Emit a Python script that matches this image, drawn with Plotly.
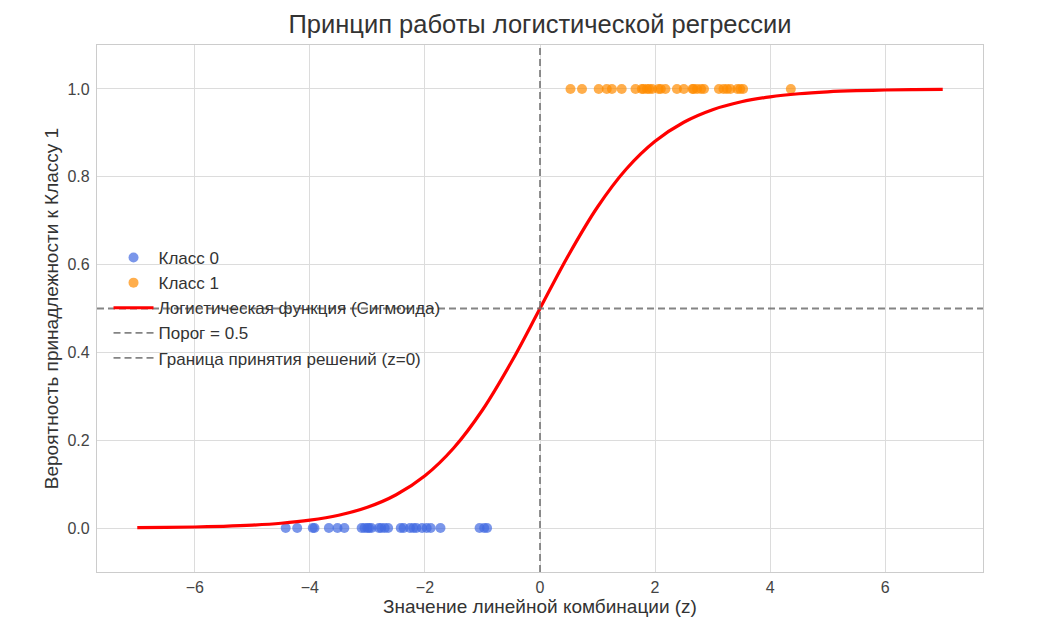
import plotly.graph_objects as go

# class 0 observations (z values), plotted at probability 0
class0_z = [-4.42, -4.22, -3.95, -3.92, -3.67, -3.52, -3.40, -3.10, -3.05, -3.00,
            -2.97, -2.93, -2.80, -2.76, -2.70, -2.64, -2.42, -2.37, -2.26, -2.20,
            -2.15, -2.05, -1.97, -1.90, -1.73, -1.05, -0.97, -0.92]
# class 1 observations (z values), plotted at probability 1
class1_z = [0.53, 0.73, 1.02, 1.16, 1.25, 1.42, 1.66, 1.77, 1.80, 1.86, 1.90,
            1.95, 2.06, 2.10, 2.18, 2.38, 2.50, 2.65, 2.67, 2.73, 2.80, 2.85,
            3.11, 3.19, 3.25, 3.31, 3.43, 3.48, 3.53, 4.36]

# sigmoid curve sampled at half steps
curve_z = [-7.0, -6.5, -6.0, -5.5, -5.0, -4.5, -4.0, -3.5, -3.0, -2.5, -2.0, -1.5,
           -1.0, -0.5, 0.0, 0.5, 1.0, 1.5, 2.0, 2.5, 3.0, 3.5, 4.0, 4.5, 5.0,
           5.5, 6.0, 6.5, 7.0]
curve_p = [0.0009, 0.0015, 0.0025, 0.0041, 0.0067, 0.0110, 0.0180, 0.0293,
           0.0474, 0.0759, 0.1192, 0.1824, 0.2689, 0.3775, 0.5000, 0.6225,
           0.7311, 0.8176, 0.8808, 0.9241, 0.9526, 0.9707, 0.9820, 0.9890,
           0.9933, 0.9959, 0.9975, 0.9985, 0.9991]

threshold = 0.5
boundary = 0

x_ticks = [-6, -4, -2, 0, 2, 4, 6]
y_ticks = [0.0, 0.2, 0.4, 0.6, 0.8, 1.0]

font_family = 'Liberation Sans, Arial, sans-serif'
grey_dash = dict(color='rgba(110,110,110,0.85)', width=1.8, dash='7px,4px')

fig = go.Figure()

fig.add_trace(go.Scatter(x=class0_z, y=[0] * len(class0_z), mode='markers', name='Класс 0',
                         marker=dict(color='royalblue', size=10, opacity=0.7, line=dict(width=0))))
fig.add_trace(go.Scatter(x=class1_z, y=[1] * len(class1_z), mode='markers', name='Класс 1',
                         marker=dict(color='darkorange', size=10, opacity=0.7, line=dict(width=0))))
fig.add_trace(go.Scatter(x=curve_z, y=curve_p, mode='lines', name='Логистическая функция (Сигмоида)',
                         line=dict(color='red', width=3.2, shape='spline')))

fig.add_hline(y=threshold, line=grey_dash, showlegend=True, name='Порог = 0.5', layer='above')
fig.add_vline(x=boundary, line=grey_dash, showlegend=True, name='Граница принятия решений (z=0)',
              layer='above')

axis_common = dict(showgrid=True, gridcolor='#dcdcdc', gridwidth=1.2, showline=True,
                   linecolor='#cccccc', linewidth=1.2, mirror=True, zeroline=False,
                   ticks='outside', tickcolor='rgba(0,0,0,0)',
                   tickfont=dict(size=16, color='#444444'),
                   title_font=dict(size=19, color='#333333'))

fig.update_xaxes(range=[-7.7, 7.7], tickvals=x_ticks, ticklen=1,
                 title_text='Значение линейной комбинации (z)', title_standoff=4, **axis_common)
fig.update_yaxes(range=[-0.1, 1.1], tickvals=y_ticks, tickformat='.1f', ticklen=3,
                 title_text='Вероятность принадлежности к Классу 1', title_standoff=3, **axis_common)

fig.update_layout(
    width=1037, height=637,
    margin=dict(l=89, r=62, t=37, b=73),
    paper_bgcolor='white', plot_bgcolor='white',
    font=dict(family=font_family, color='#333333'),
    title=dict(text='Принцип работы логистической регрессии', xref='paper', x=0.5, xanchor='center',
               y=0.974, yanchor='middle', font=dict(size=25.5, color='#333333')),
    legend=dict(x=0.013, y=0.63, xanchor='left', yanchor='top', bgcolor='rgba(0,0,0,0)',
                itemwidth=40, font=dict(size=17, color='#333333')),
    showlegend=True,
)

fig.write_html('out.html')
